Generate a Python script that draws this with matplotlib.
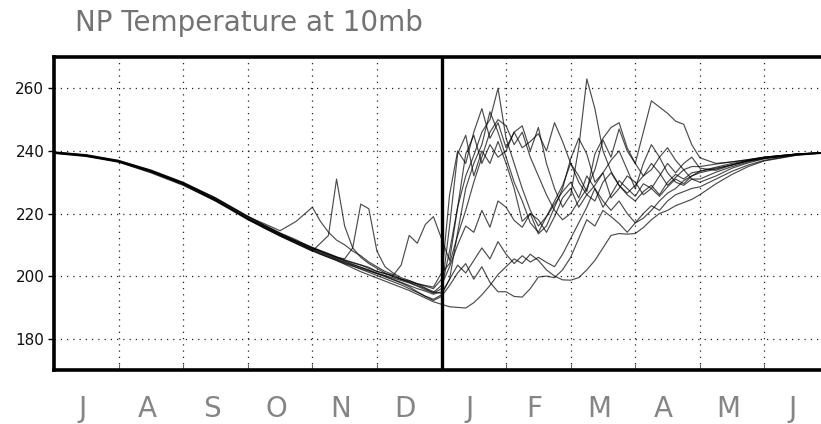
import matplotlib
matplotlib.use("Agg")
import matplotlib.pyplot as plt

# ==============================
# Data (month position after 1 Jul, temperature in K)
# ==============================

month_pos = [0, 0.5, 1, 1.5, 2, 2.5, 3, 3.25, 3.5, 3.75,
             4.0, 4.125, 4.25, 4.375, 4.5, 4.625, 4.75, 4.875,
             5.0, 5.125, 5.25, 5.375, 5.5, 5.625, 5.75, 5.875,
             6.0, 6.125, 6.25, 6.375, 6.5, 6.625, 6.75, 6.875,
             7.0, 7.125, 7.25, 7.375, 7.5, 7.625, 7.75, 7.875,
             8.0, 8.125, 8.25, 8.375, 8.5, 8.625, 8.75, 8.875,
             9.0, 9.125, 9.25, 9.375, 9.5, 9.625, 9.75, 9.875,
             10.0, 10.25, 10.5, 10.75, 11, 11.5, 12]

temp_1 = [239.6, 238.8, 237.0, 233.8, 229.8, 224.8, 219.0, 216.8, 214.5, 217.5,
          222.0, 217.5, 214.0, 211.5, 210.0, 208.0, 206.5, 204.5,
          203.0, 201.5, 200.5, 199.0, 198.0, 197.0, 196.0, 194.5,
          196.0, 208.0, 222.0, 232.0, 238.5, 246.0, 250.0, 260.0,
          244.0, 236.0, 228.0, 221.0, 216.0, 219.0, 223.0, 227.0,
          230.0, 225.0, 232.0, 228.0, 222.0, 226.0, 230.5, 228.0,
          225.5, 229.5, 228.0, 225.5, 228.5, 231.0, 229.5, 232.0,
          233.0, 234.2, 235.6, 236.8, 237.7, 238.9, 239.6]

temp_2 = [239.4, 238.5, 236.6, 233.4, 229.4, 224.2, 218.2, 215.6, 213.0, 210.8,
          208.8, 207.8, 206.8, 205.8, 205.0, 204.2, 203.5, 202.5,
          201.5, 200.8, 200.0, 199.0, 198.2, 197.5, 196.8, 196.0,
          199.0, 226.0, 240.0, 236.0, 246.0, 253.5, 244.0, 249.0,
          241.0, 246.0, 248.0, 240.0, 247.5, 236.0, 228.0, 222.0,
          226.0, 241.0, 263.0, 253.5, 240.0, 233.5, 229.0, 226.5,
          229.0, 232.0, 236.0, 233.0, 229.0, 231.5, 234.0, 235.0,
          235.0, 235.8, 236.5, 237.2, 238.0, 239.0, 239.6]

temp_3 = [239.5, 238.4, 236.5, 233.2, 229.2, 224.0, 218.0, 215.4, 212.8, 210.4,
          208.0, 210.5, 213.0, 231.0, 216.0, 209.0, 206.0, 204.0,
          202.5, 201.0, 199.8, 199.0, 198.5, 197.5, 196.2, 195.0,
          194.5, 199.0, 214.0, 228.0, 236.0, 242.0, 252.5, 246.0,
          238.0, 230.0, 224.0, 217.0, 214.0, 219.0, 224.0, 229.0,
          236.0, 232.0, 227.0, 239.0, 244.0, 247.5, 249.0, 241.0,
          236.0, 232.0, 234.0, 238.0, 241.0, 237.0, 234.0, 231.0,
          230.0, 232.0, 234.5, 236.2, 237.5, 238.7, 239.4]

temp_4 = [239.3, 238.4, 236.6, 233.6, 229.8, 225.0, 219.2, 216.4, 213.8, 211.6,
          209.0, 208.0, 207.0, 206.0, 205.5, 209.0, 223.0, 221.5,
          208.0, 203.0, 201.0, 199.5, 198.6, 197.6, 197.0, 196.5,
          201.0, 204.0, 213.0, 221.0, 230.0, 238.0, 246.0, 250.0,
          248.0, 242.0, 246.0, 238.0, 232.0, 226.0, 221.0, 218.0,
          220.0, 224.0, 228.0, 234.0, 243.5, 238.0, 247.0, 240.0,
          236.0, 246.0, 256.0, 254.0, 252.0, 249.5, 248.5, 242.0,
          237.8, 236.0, 236.5, 237.2, 238.0, 239.0, 239.5]

temp_5 = [239.7, 238.7, 236.9, 233.9, 230.0, 225.0, 219.0, 216.2, 213.6, 211.3,
          209.2, 208.2, 207.2, 206.2, 205.2, 204.4, 203.6, 202.8,
          201.5, 200.8, 200.2, 203.5, 213.0, 210.5, 216.5, 219.0,
          212.0, 205.0, 222.0, 239.0, 245.0, 236.0, 242.0, 238.0,
          240.0, 246.0, 241.0, 243.0, 245.5, 240.0, 249.0, 243.0,
          236.0, 230.0, 226.0, 229.0, 233.0, 225.0, 228.0, 232.0,
          230.0, 226.0, 228.0, 232.0, 236.0, 233.0, 236.0, 238.0,
          234.5, 233.8, 235.5, 237.0, 238.0, 239.0, 239.6]

temp_6 = [239.2, 238.2, 236.4, 233.0, 229.0, 224.0, 218.4, 215.8, 213.2, 211.0,
          208.2, 207.0, 206.0, 205.0, 204.0, 203.2, 202.4, 201.6,
          200.8, 200.0, 199.0, 198.0, 197.0, 196.0, 195.2, 194.2,
          195.0, 216.0, 239.0, 245.0, 232.0, 240.0, 236.0, 243.0,
          236.0, 228.0, 217.5, 220.0, 213.5, 216.0, 222.0, 228.0,
          237.5, 244.0, 239.0, 230.0, 233.0, 237.0, 240.0, 234.0,
          228.0, 236.0, 242.0, 238.0, 233.0, 230.0, 229.0, 231.0,
          231.0, 233.2, 235.0, 236.5, 237.6, 238.8, 239.5]

temp_7 = [239.4, 238.5, 236.7, 233.5, 229.5, 224.4, 218.2, 215.4, 212.8, 210.4,
          208.0, 207.0, 206.0, 205.0, 203.8, 202.6, 201.4, 200.4,
          199.4, 198.4, 197.4, 196.4, 195.4, 194.2, 193.0, 191.8,
          191.0, 190.2, 190.0, 189.8, 191.5, 194.0, 197.0, 200.5,
          203.0, 205.5, 204.0, 207.0, 205.0, 202.0, 200.0, 198.8,
          198.7, 199.5, 202.0, 205.0, 209.0, 213.0, 213.6, 213.4,
          213.6, 215.5, 218.0, 220.0, 221.0, 222.5, 223.5, 224.5,
          226.0, 229.5, 232.5, 235.0, 236.8, 238.6, 239.4]

temp_8 = [239.6, 238.6, 236.7, 233.7, 229.7, 224.5, 218.5, 216.0, 213.2, 210.6,
          208.4, 207.3, 206.3, 205.3, 204.3, 203.3, 202.2, 201.2,
          200.2, 199.2, 198.2, 197.2, 196.0, 194.8, 193.5, 192.2,
          193.5, 197.0, 201.0, 204.0, 199.0, 203.0, 198.0, 195.0,
          195.0, 193.5, 193.3, 196.0, 199.7, 200.0, 199.5, 202.0,
          206.0, 212.0, 218.0, 216.0, 221.0, 219.0, 216.8, 214.0,
          217.0, 220.0, 222.5, 221.0, 224.0, 226.0, 227.0, 228.0,
          228.5, 231.0, 233.5, 235.5, 237.0, 238.7, 239.5]

temp_9 = [239.5, 238.6, 236.8, 233.6, 229.6, 224.6, 218.8, 216.3, 213.7, 211.2,
          209.0, 208.0, 207.0, 206.0, 204.8, 203.8, 202.8, 201.8,
          200.8, 199.8, 198.8, 197.8, 196.6, 195.0, 193.6, 192.6,
          194.0, 199.0, 203.5, 201.0, 205.0, 209.0, 205.5, 211.0,
          207.0, 204.0, 206.5, 204.5, 206.0, 204.4, 203.0, 207.0,
          212.0, 217.0, 222.0, 228.0, 224.0, 221.0, 224.0, 220.0,
          217.0, 218.5, 221.0, 224.0, 226.5, 228.0, 230.5, 232.0,
          233.5, 234.5, 235.5, 236.8, 237.8, 238.9, 239.6]

temp_10 = [239.3, 238.3, 236.5, 233.3, 229.3, 224.3, 218.3, 215.8, 213.3, 211.0,
           208.6, 207.5, 206.5, 205.5, 204.5, 203.6, 202.8, 202.0,
           201.0, 200.2, 199.4, 198.6, 197.8, 196.8, 195.6, 194.8,
           197.0, 203.0, 210.0, 216.0, 214.0, 221.0, 215.6, 224.0,
           222.0, 217.8, 215.6, 220.0, 218.0, 214.0, 219.0, 225.0,
           228.0, 222.0, 226.0, 224.0, 230.0, 233.0, 229.0, 226.0,
           224.0, 227.0, 229.0, 226.0, 230.0, 232.5, 231.0, 233.0,
           233.5, 234.8, 236.0, 237.0, 237.9, 239.0, 239.5]

all_temps = [temp_1, temp_2, temp_3, temp_4, temp_5,
             temp_6, temp_7, temp_8, temp_9, temp_10]

month_labels = ["J", "A", "S", "O", "N", "D", "J", "F", "M", "A", "M", "J"]
y_ticks = [180, 200, 220, 240, 260]

# ==============================
# Figure
# ==============================

fig = plt.figure(figsize=(8.21, 4.24), dpi=100)
ax = fig.add_axes([54 / 821, 54 / 424, 775 / 821, 313 / 424])

for temps in all_temps:
    ax.plot(month_pos, temps, color="black", linewidth=0.85, alpha=0.7)

ax.set_xlim(0, 12)
ax.set_ylim(170, 270)

# dotted grid
for m in range(1, 12):
    ax.axvline(m, color="#222222", linewidth=0.9, linestyle=(0, (1, 4)), zorder=0)
for t in y_ticks:
    ax.axhline(t, color="#222222", linewidth=0.9, linestyle=(0, (1, 4)), zorder=0)

# new year marker
ax.axvline(6, color="black", linewidth=2.4)

# ticks
ax.set_xticks(range(1, 12))
ax.set_xticklabels([])
ax.tick_params(axis="x", which="major", direction="in", length=4,
               width=0.8, color="#666666")
ax.set_xticks([m + 0.44 for m in range(12)], minor=True)
ax.set_xticklabels(month_labels, minor=True, family="Liberation Sans Narrow",
                   fontsize=20, color="#858585")
ax.tick_params(axis="x", which="minor", length=0, pad=18)

ax.set_yticks(y_ticks)
ax.set_yticklabels([str(t) for t in y_ticks], fontsize=11, color="#111111")
ax.tick_params(axis="y", direction="out", length=4, width=1, pad=3)

for side in ["left", "top", "bottom", "right"]:
    ax.spines[side].set_linewidth(2.6)

fig.text(75 / 821, 1 - 31 / 424, "NP Temperature at 10mb",
         fontsize=20, color="#737373", ha="left", va="baseline")

plt.savefig("out.png", dpi=100)
